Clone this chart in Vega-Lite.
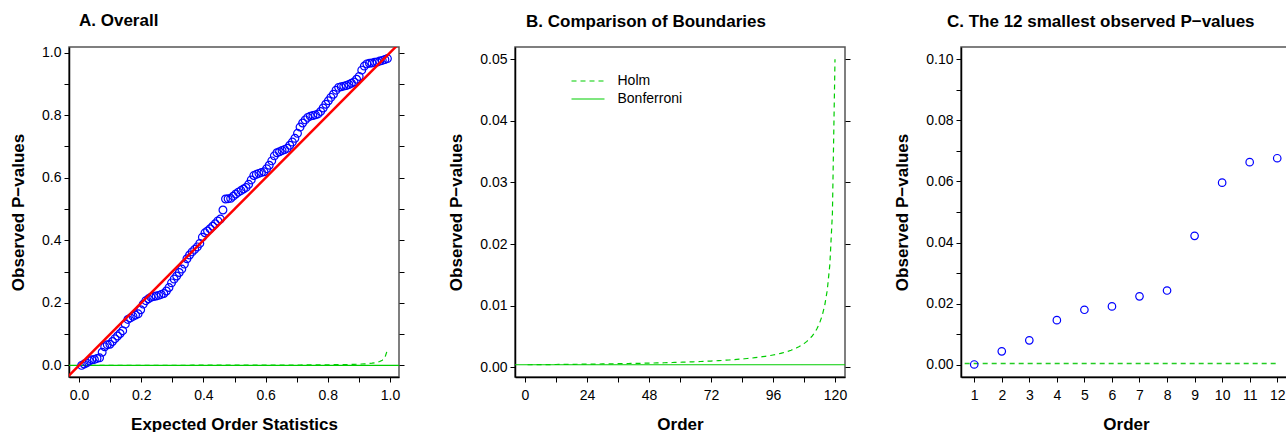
{
"$schema":"https://vega.github.io/schema/vega-lite/v6.json",
"padding":{"left":8,"top":10,"right":0,"bottom":0},
"background":"white",
"datasets":{
"pv":[
{"i":1,"e":0.0083,"p":0.0001,"h":0.000417},{"i":2,"e":0.0165,"p":0.0044,"h":0.00042},{"i":3,"e":0.0248,"p":0.008,"h":0.000424},{"i":4,"e":0.0331,"p":0.0146,"h":0.000427},{"i":5,"e":0.0413,"p":0.018,"h":0.000431},{"i":6,"e":0.0496,"p":0.0191,"h":0.000435},{"i":7,"e":0.0579,"p":0.0224,"h":0.000439},{"i":8,"e":0.0661,"p":0.0243,"h":0.000442},{"i":9,"e":0.0744,"p":0.0422,"h":0.000446},{"i":10,"e":0.0826,"p":0.0596,"h":0.00045},
{"i":11,"e":0.0909,"p":0.0663,"h":0.000455},{"i":12,"e":0.0992,"p":0.0676,"h":0.000459},{"i":13,"e":0.1074,"p":0.0766,"h":0.000463},{"i":14,"e":0.1157,"p":0.0856,"h":0.000467},{"i":15,"e":0.124,"p":0.094,"h":0.000472},{"i":16,"e":0.1322,"p":0.102,"h":0.000476},{"i":17,"e":0.1405,"p":0.111,"h":0.000481},{"i":18,"e":0.1488,"p":0.132,"h":0.000485},{"i":19,"e":0.157,"p":0.147,"h":0.00049},{"i":20,"e":0.1653,"p":0.152,"h":0.000495},
{"i":21,"e":0.1736,"p":0.157,"h":0.0005},{"i":22,"e":0.1818,"p":0.161,"h":0.000505},{"i":23,"e":0.1901,"p":0.165,"h":0.00051},{"i":24,"e":0.1983,"p":0.178,"h":0.000515},{"i":25,"e":0.2066,"p":0.196,"h":0.000521},{"i":26,"e":0.2149,"p":0.207,"h":0.000526},{"i":27,"e":0.2231,"p":0.213,"h":0.000532},{"i":28,"e":0.2314,"p":0.218,"h":0.000538},{"i":29,"e":0.2397,"p":0.22,"h":0.000543},{"i":30,"e":0.2479,"p":0.222,"h":0.000549},
{"i":31,"e":0.2562,"p":0.224,"h":0.000556},{"i":32,"e":0.2645,"p":0.227,"h":0.000562},{"i":33,"e":0.2727,"p":0.23,"h":0.000568},{"i":34,"e":0.281,"p":0.238,"h":0.000575},{"i":35,"e":0.2893,"p":0.249,"h":0.000581},{"i":36,"e":0.2975,"p":0.264,"h":0.000588},{"i":37,"e":0.3058,"p":0.276,"h":0.000595},{"i":38,"e":0.314,"p":0.286,"h":0.000602},{"i":39,"e":0.3223,"p":0.297,"h":0.00061},{"i":40,"e":0.3306,"p":0.308,"h":0.000617},
{"i":41,"e":0.3388,"p":0.324,"h":0.000625},{"i":42,"e":0.3471,"p":0.341,"h":0.000633},{"i":43,"e":0.3554,"p":0.353,"h":0.000641},{"i":44,"e":0.3636,"p":0.363,"h":0.000649},{"i":45,"e":0.3719,"p":0.371,"h":0.000658},{"i":46,"e":0.3802,"p":0.379,"h":0.000667},{"i":47,"e":0.3884,"p":0.39,"h":0.000676},{"i":48,"e":0.3967,"p":0.41,"h":0.000685},{"i":49,"e":0.405,"p":0.424,"h":0.000694},{"i":50,"e":0.4132,"p":0.43,"h":0.000704},
{"i":51,"e":0.4215,"p":0.437,"h":0.000714},{"i":52,"e":0.4298,"p":0.445,"h":0.000725},{"i":53,"e":0.438,"p":0.453,"h":0.000735},{"i":54,"e":0.4463,"p":0.462,"h":0.000746},{"i":55,"e":0.4545,"p":0.468,"h":0.000758},{"i":56,"e":0.4628,"p":0.497,"h":0.000769},{"i":57,"e":0.4711,"p":0.532,"h":0.000781},{"i":58,"e":0.4793,"p":0.533,"h":0.000794},{"i":59,"e":0.4876,"p":0.534,"h":0.000806},{"i":60,"e":0.4959,"p":0.541,"h":0.00082},
{"i":61,"e":0.5041,"p":0.548,"h":0.000833},{"i":62,"e":0.5124,"p":0.554,"h":0.000847},{"i":63,"e":0.5207,"p":0.559,"h":0.000862},{"i":64,"e":0.5289,"p":0.564,"h":0.000877},{"i":65,"e":0.5372,"p":0.569,"h":0.000893},{"i":66,"e":0.5455,"p":0.579,"h":0.000909},{"i":67,"e":0.5537,"p":0.593,"h":0.000926},{"i":68,"e":0.562,"p":0.607,"h":0.000943},{"i":69,"e":0.5702,"p":0.611,"h":0.000962},{"i":70,"e":0.5785,"p":0.614,"h":0.00098},
{"i":71,"e":0.5868,"p":0.617,"h":0.001},{"i":72,"e":0.595,"p":0.619,"h":0.00102},{"i":73,"e":0.6033,"p":0.629,"h":0.001042},{"i":74,"e":0.6116,"p":0.64,"h":0.001064},{"i":75,"e":0.6198,"p":0.654,"h":0.001087},{"i":76,"e":0.6281,"p":0.67,"h":0.001111},{"i":77,"e":0.6364,"p":0.68,"h":0.001136},{"i":78,"e":0.6446,"p":0.683,"h":0.001163},{"i":79,"e":0.6529,"p":0.687,"h":0.00119},{"i":80,"e":0.6612,"p":0.69,"h":0.00122},
{"i":81,"e":0.6694,"p":0.694,"h":0.00125},{"i":82,"e":0.6777,"p":0.704,"h":0.001282},{"i":83,"e":0.686,"p":0.714,"h":0.001316},{"i":84,"e":0.6942,"p":0.726,"h":0.001351},{"i":85,"e":0.7025,"p":0.742,"h":0.001389},{"i":86,"e":0.7107,"p":0.762,"h":0.001429},{"i":87,"e":0.719,"p":0.775,"h":0.001471},{"i":88,"e":0.7273,"p":0.785,"h":0.001515},{"i":89,"e":0.7355,"p":0.793,"h":0.001563},{"i":90,"e":0.7438,"p":0.797,"h":0.001613},
{"i":91,"e":0.7521,"p":0.799,"h":0.001667},{"i":92,"e":0.7603,"p":0.801,"h":0.001724},{"i":93,"e":0.7686,"p":0.804,"h":0.001786},{"i":94,"e":0.7769,"p":0.812,"h":0.001852},{"i":95,"e":0.7851,"p":0.823,"h":0.001923},{"i":96,"e":0.7934,"p":0.835,"h":0.002},{"i":97,"e":0.8017,"p":0.846,"h":0.002083},{"i":98,"e":0.8099,"p":0.857,"h":0.002174},{"i":99,"e":0.8182,"p":0.867,"h":0.002273},{"i":100,"e":0.8264,"p":0.88,"h":0.002381},
{"i":101,"e":0.8347,"p":0.889,"h":0.0025},{"i":102,"e":0.843,"p":0.891,"h":0.002632},{"i":103,"e":0.8512,"p":0.893,"h":0.002778},{"i":104,"e":0.8595,"p":0.895,"h":0.002941},{"i":105,"e":0.8678,"p":0.898,"h":0.003125},{"i":106,"e":0.876,"p":0.902,"h":0.003333},{"i":107,"e":0.8843,"p":0.906,"h":0.003571},{"i":108,"e":0.8926,"p":0.915,"h":0.003846},{"i":109,"e":0.9008,"p":0.924,"h":0.004167},{"i":110,"e":0.9091,"p":0.944,"h":0.004545},
{"i":111,"e":0.9174,"p":0.957,"h":0.005},{"i":112,"e":0.9256,"p":0.964,"h":0.005556},{"i":113,"e":0.9339,"p":0.966,"h":0.00625},{"i":114,"e":0.9421,"p":0.967,"h":0.007143},{"i":115,"e":0.9504,"p":0.969,"h":0.008333},{"i":116,"e":0.9587,"p":0.97,"h":0.01},{"i":117,"e":0.9669,"p":0.973,"h":0.0125},{"i":118,"e":0.9752,"p":0.975,"h":0.016667},{"i":119,"e":0.9835,"p":0.978,"h":0.025},{"i":120,"e":0.9917,"p":0.981,"h":0.05}
],
"bnd":[
{"i":-10,"h":0.000417,"m":"Bonferroni"},{"i":130,"h":0.000417,"m":"Bonferroni"},
{"i":1,"h":0.000417,"m":"Holm"},{"i":2,"h":0.00042,"m":"Holm"},{"i":3,"h":0.000424,"m":"Holm"},{"i":4,"h":0.000427,"m":"Holm"},{"i":5,"h":0.000431,"m":"Holm"},{"i":6,"h":0.000435,"m":"Holm"},{"i":7,"h":0.000439,"m":"Holm"},{"i":8,"h":0.000442,"m":"Holm"},{"i":9,"h":0.000446,"m":"Holm"},{"i":10,"h":0.00045,"m":"Holm"},
{"i":11,"h":0.000455,"m":"Holm"},{"i":12,"h":0.000459,"m":"Holm"},{"i":13,"h":0.000463,"m":"Holm"},{"i":14,"h":0.000467,"m":"Holm"},{"i":15,"h":0.000472,"m":"Holm"},{"i":16,"h":0.000476,"m":"Holm"},{"i":17,"h":0.000481,"m":"Holm"},{"i":18,"h":0.000485,"m":"Holm"},{"i":19,"h":0.00049,"m":"Holm"},{"i":20,"h":0.000495,"m":"Holm"},
{"i":21,"h":0.0005,"m":"Holm"},{"i":22,"h":0.000505,"m":"Holm"},{"i":23,"h":0.00051,"m":"Holm"},{"i":24,"h":0.000515,"m":"Holm"},{"i":25,"h":0.000521,"m":"Holm"},{"i":26,"h":0.000526,"m":"Holm"},{"i":27,"h":0.000532,"m":"Holm"},{"i":28,"h":0.000538,"m":"Holm"},{"i":29,"h":0.000543,"m":"Holm"},{"i":30,"h":0.000549,"m":"Holm"},
{"i":31,"h":0.000556,"m":"Holm"},{"i":32,"h":0.000562,"m":"Holm"},{"i":33,"h":0.000568,"m":"Holm"},{"i":34,"h":0.000575,"m":"Holm"},{"i":35,"h":0.000581,"m":"Holm"},{"i":36,"h":0.000588,"m":"Holm"},{"i":37,"h":0.000595,"m":"Holm"},{"i":38,"h":0.000602,"m":"Holm"},{"i":39,"h":0.00061,"m":"Holm"},{"i":40,"h":0.000617,"m":"Holm"},
{"i":41,"h":0.000625,"m":"Holm"},{"i":42,"h":0.000633,"m":"Holm"},{"i":43,"h":0.000641,"m":"Holm"},{"i":44,"h":0.000649,"m":"Holm"},{"i":45,"h":0.000658,"m":"Holm"},{"i":46,"h":0.000667,"m":"Holm"},{"i":47,"h":0.000676,"m":"Holm"},{"i":48,"h":0.000685,"m":"Holm"},{"i":49,"h":0.000694,"m":"Holm"},{"i":50,"h":0.000704,"m":"Holm"},
{"i":51,"h":0.000714,"m":"Holm"},{"i":52,"h":0.000725,"m":"Holm"},{"i":53,"h":0.000735,"m":"Holm"},{"i":54,"h":0.000746,"m":"Holm"},{"i":55,"h":0.000758,"m":"Holm"},{"i":56,"h":0.000769,"m":"Holm"},{"i":57,"h":0.000781,"m":"Holm"},{"i":58,"h":0.000794,"m":"Holm"},{"i":59,"h":0.000806,"m":"Holm"},{"i":60,"h":0.00082,"m":"Holm"},
{"i":61,"h":0.000833,"m":"Holm"},{"i":62,"h":0.000847,"m":"Holm"},{"i":63,"h":0.000862,"m":"Holm"},{"i":64,"h":0.000877,"m":"Holm"},{"i":65,"h":0.000893,"m":"Holm"},{"i":66,"h":0.000909,"m":"Holm"},{"i":67,"h":0.000926,"m":"Holm"},{"i":68,"h":0.000943,"m":"Holm"},{"i":69,"h":0.000962,"m":"Holm"},{"i":70,"h":0.00098,"m":"Holm"},
{"i":71,"h":0.001,"m":"Holm"},{"i":72,"h":0.00102,"m":"Holm"},{"i":73,"h":0.001042,"m":"Holm"},{"i":74,"h":0.001064,"m":"Holm"},{"i":75,"h":0.001087,"m":"Holm"},{"i":76,"h":0.001111,"m":"Holm"},{"i":77,"h":0.001136,"m":"Holm"},{"i":78,"h":0.001163,"m":"Holm"},{"i":79,"h":0.00119,"m":"Holm"},{"i":80,"h":0.00122,"m":"Holm"},
{"i":81,"h":0.00125,"m":"Holm"},{"i":82,"h":0.001282,"m":"Holm"},{"i":83,"h":0.001316,"m":"Holm"},{"i":84,"h":0.001351,"m":"Holm"},{"i":85,"h":0.001389,"m":"Holm"},{"i":86,"h":0.001429,"m":"Holm"},{"i":87,"h":0.001471,"m":"Holm"},{"i":88,"h":0.001515,"m":"Holm"},{"i":89,"h":0.001563,"m":"Holm"},{"i":90,"h":0.001613,"m":"Holm"},
{"i":91,"h":0.001667,"m":"Holm"},{"i":92,"h":0.001724,"m":"Holm"},{"i":93,"h":0.001786,"m":"Holm"},{"i":94,"h":0.001852,"m":"Holm"},{"i":95,"h":0.001923,"m":"Holm"},{"i":96,"h":0.002,"m":"Holm"},{"i":97,"h":0.002083,"m":"Holm"},{"i":98,"h":0.002174,"m":"Holm"},{"i":99,"h":0.002273,"m":"Holm"},{"i":100,"h":0.002381,"m":"Holm"},
{"i":101,"h":0.0025,"m":"Holm"},{"i":102,"h":0.002632,"m":"Holm"},{"i":103,"h":0.002778,"m":"Holm"},{"i":104,"h":0.002941,"m":"Holm"},{"i":105,"h":0.003125,"m":"Holm"},{"i":106,"h":0.003333,"m":"Holm"},{"i":107,"h":0.003571,"m":"Holm"},{"i":108,"h":0.003846,"m":"Holm"},{"i":109,"h":0.004167,"m":"Holm"},{"i":110,"h":0.004545,"m":"Holm"},
{"i":111,"h":0.005,"m":"Holm"},{"i":112,"h":0.005556,"m":"Holm"},{"i":113,"h":0.00625,"m":"Holm"},{"i":114,"h":0.007143,"m":"Holm"},{"i":115,"h":0.008333,"m":"Holm"},{"i":116,"h":0.01,"m":"Holm"},{"i":117,"h":0.0125,"m":"Holm"},{"i":118,"h":0.016667,"m":"Holm"},{"i":119,"h":0.025,"m":"Holm"},{"i":120,"h":0.05,"m":"Holm"}
],
"holmC":[
{"i":0,"h":0.000413},{"i":1,"h":0.000417},{"i":2,"h":0.00042},{"i":3,"h":0.000424},{"i":4,"h":0.000427},{"i":5,"h":0.000431},{"i":6,"h":0.000435},{"i":7,"h":0.000439},{"i":8,"h":0.000442},{"i":9,"h":0.000446},{"i":10,"h":0.00045},{"i":11,"h":0.000455},{"i":12,"h":0.000459}
],
"one":[{"k":1}]
},
"hconcat":[
{
"width":330,"height":330,
"title":{"text":"A. Overall","dx":10},
"resolve":{"axis":{"y":"independent","x":"independent"}},
"layer":[
{"data":{"name":"one"},"mark":{"type":"rule","color":"#00CD00","strokeWidth":1.2,"clip":true},
 "encoding":{"y":{"datum":0.000417,"type":"quantitative","scale":{"domain":[-0.037,1.018],"nice":false,"zero":false},
   "axis":{"orient":"right","values":[0,0.1,0.2,0.3,0.4,0.5,0.6,0.7,0.8,0.9,1],"labels":false,"domain":false,"title":null}}}},
{"data":{"name":"pv"},"mark":{"type":"line","color":"#00CD00","strokeWidth":1.2,"strokeDash":[5,4],"clip":true},
 "encoding":{"x":{"field":"e","type":"quantitative","scale":{"domain":[-0.0322,1.0289],"nice":false,"zero":false},"axis":null},
   "y":{"field":"h","type":"quantitative","scale":{"domain":[-0.037,1.018],"nice":false,"zero":false},"axis":null}}},
{"data":{"name":"pv"},"mark":{"type":"point","shape":"circle","filled":false,"color":"#0000FF","size":60,"strokeWidth":1.2,"opacity":1},
 "encoding":{"x":{"field":"e","type":"quantitative","scale":{"domain":[-0.0322,1.0289],"nice":false,"zero":false},
   "axis":{"orient":"bottom","values":[0,0.1,0.2,0.3,0.4,0.5,0.6,0.7,0.8,0.9,1],"format":".1f","labelExpr":"round(datum.value*10)%2==0 ? datum.label : ''","title":"Expected Order Statistics"}},
   "y":{"field":"p","type":"quantitative","scale":{"domain":[-0.037,1.018],"nice":false,"zero":false},
   "axis":{"orient":"left","values":[0,0.1,0.2,0.3,0.4,0.5,0.6,0.7,0.8,0.9,1],"format":".1f","labelExpr":"round(datum.value*10)%2==0 ? datum.label : ''","title":"Observed P−values"}}}},
{"data":{"name":"one"},"mark":{"type":"rule","color":"#FF0000","strokeWidth":2.5,"clip":true},
 "encoding":{"x":{"datum":-0.2,"type":"quantitative","scale":{"domain":[-0.0322,1.0289],"nice":false,"zero":false},"axis":null},
   "y":{"datum":-0.2,"type":"quantitative","scale":{"domain":[-0.037,1.018],"nice":false,"zero":false},"axis":null},
   "x2":{"datum":1.2},"y2":{"datum":1.2}}}
]
},
{
"width":330,"height":330,
"title":{"text":"B. Comparison of Boundaries","dx":11},
"resolve":{"axis":{"y":"independent","x":"independent"}},
"layer":[
{"data":{"name":"one"},"mark":{"type":"rule","opacity":0},
 "encoding":{"y":{"datum":0,"type":"quantitative","scale":{"domain":[-0.00157,0.05198],"nice":false,"zero":false},
   "axis":{"orient":"right","values":[0,0.01,0.02,0.03,0.04,0.05],"labels":false,"domain":false,"title":null}}}},
{"data":{"name":"bnd"},"mark":{"type":"line","color":"#00CD00","strokeWidth":1.2,"clip":true},
 "encoding":{"x":{"field":"i","type":"quantitative","scale":{"domain":[-3.87,123.87],"nice":false,"zero":false},
   "axis":{"orient":"bottom","values":[0,12,24,36,48,60,72,84,96,108,120],"labelExpr":"datum.value%24==0 ? datum.label : ''","title":"Order"}},
   "y":{"field":"h","type":"quantitative","scale":{"domain":[-0.00157,0.05198],"nice":false,"zero":false},
   "axis":{"orient":"left","values":[0,0.01,0.02,0.03,0.04,0.05],"format":".2f","title":"Observed P−values"}},
   "strokeDash":{"field":"m","type":"nominal","scale":{"domain":["Holm","Bonferroni"],"range":[[5,4],[1,0]]},
   "legend":{"orient":"none","legendX":66,"legendY":27,"title":null,"symbolType":"M-3.3,0H3.3","symbolSize":100,"symbolStrokeColor":"#00CD00","symbolStrokeWidth":1.2,"labelFontSize":14,"labelFont":"Liberation Sans","labelColor":"#000","labelOffset":22.5,"rowPadding":4,"padding":0,"direction":"vertical",
     "encode":{"symbols":{"update":{"stroke":{"value":"#00CD00"},"strokeWidth":{"value":1.2}}}}}}}}
]
},
{
"width":330,"height":330,
"title":{"text":"C. The 12 smallest observed P−values","dx":-14},
"resolve":{"axis":{"y":"independent","x":"independent"}},
"layer":[
{"data":{"name":"holmC"},"mark":{"type":"line","color":"#22CC22","stroke":"#22CC22","strokeWidth":1.5,"strokeDash":[5,4],"clip":true},
 "encoding":{"x":{"field":"i","type":"quantitative","scale":{"domain":[0.52,12.5],"nice":false,"zero":false},"axis":null},
   "y":{"field":"h","type":"quantitative","scale":{"domain":[-0.004,0.104],"nice":false,"zero":false},
   "axis":{"orient":"right","values":[0,0.01,0.02,0.03,0.04,0.05,0.06,0.07,0.08,0.09,0.1],"labels":false,"domain":false,"title":null}}}},
{"data":{"name":"pv"},"transform":[{"filter":"datum.i <= 12"}],
 "mark":{"type":"point","shape":"circle","filled":false,"color":"#0000FF","size":56,"strokeWidth":1.2,"opacity":1},
 "encoding":{"x":{"field":"i","type":"quantitative","scale":{"domain":[0.52,12.5],"nice":false,"zero":false},
   "axis":{"orient":"bottom","values":[1,2,3,4,5,6,7,8,9,10,11,12],"format":"d","title":"Order"}},
   "y":{"field":"p","type":"quantitative","scale":{"domain":[-0.004,0.104],"nice":false,"zero":false},
   "axis":{"orient":"left","values":[0,0.01,0.02,0.03,0.04,0.05,0.06,0.07,0.08,0.09,0.1],"format":".2f","labelExpr":"round(datum.value*100)%2==0 ? datum.label : ''","title":"Observed P−values"}}}}
]
}
],
"spacing":116,
"bounds":"flush",
"resolve":{"scale":{"strokeDash":"independent"},"legend":{"strokeDash":"independent"}},
"config":{
 "font":"Liberation Sans",
 "view":{"stroke":"#555555","strokeWidth":1.5},
 "axis":{"grid":false,"domainColor":"#000000","domainWidth":1.5,"tickColor":"#000000","tickWidth":1,"tickSize":5,"labelFont":"Liberation Sans","labelFontSize":14,"labelColor":"#000000","labelPadding":3,"labelFlush":false,"labelOverlap":false,"titleFont":"Liberation Sans","titleFontSize":17,"titleFontWeight":"bold","titleColor":"#000000"},
 "axisX":{"labelPadding":6,"titlePadding":14},
 "axisY":{"titlePadding":14},
 "title":{"font":"Liberation Sans","fontSize":17,"fontWeight":"bold","color":"#000000","anchor":"start","frame":"group","offset":16}
}
}
